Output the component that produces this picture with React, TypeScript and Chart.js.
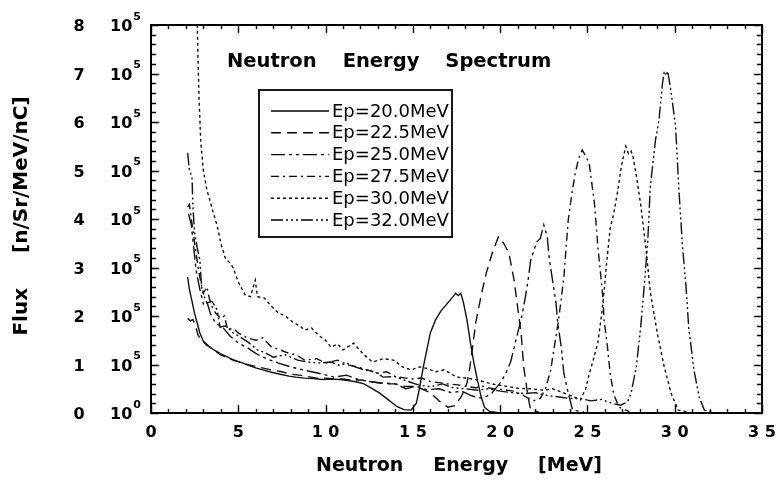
import { useEffect, useRef } from "react";
import { Chart, registerables } from "chart.js";

Chart.register(...registerables);

// ---------- data (flux in units of 10^5 n/Sr/MeV/nC vs neutron energy in MeV) ----------
const seriesLabels = ["Ep=20.0MeV", "Ep=22.5MeV", "Ep=25.0MeV", "Ep=27.5MeV", "Ep=30.0MeV", "Ep=32.0MeV"];

const ep20: [number, number][] = [
  [2.1, 2.8], [2.2, 2.55], [2.35, 2.3], [2.5, 2.05], [2.65, 1.85], [2.8, 1.65], [3.0, 1.48], [3.3, 1.38],
  [3.6, 1.3], [4.0, 1.22], [4.4, 1.15], [4.8, 1.08], [5.2, 1.04], [5.6, 0.98], [6.0, 0.93], [6.4, 0.89],
  [6.9, 0.84], [7.4, 0.8], [7.9, 0.76], [8.3, 0.74], [8.8, 0.72], [9.3, 0.71], [9.8, 0.69], [10.3, 0.7],
  [10.8, 0.69], [11.3, 0.67], [11.8, 0.64], [12.2, 0.6], [12.6, 0.52], [13.1, 0.41], [13.6, 0.27], [14.1, 0.13],
  [14.5, 0.07], [14.9, 0.06], [15.2, 0.2], [15.4, 0.55], [15.6, 0.95], [15.8, 1.3], [16.0, 1.65], [16.3, 1.92],
  [16.6, 2.1], [17.0, 2.27], [17.3, 2.4], [17.45, 2.47], [17.6, 2.42], [17.75, 2.47], [17.9, 2.27], [18.1, 1.92],
  [18.3, 1.44], [18.5, 1.03], [18.7, 0.68], [18.9, 0.35], [19.1, 0.12], [19.4, 0.03], [20.0, 0.0],
];

const ep225: [number, number][] = [
  [2.1, 1.95], [2.25, 1.9], [2.4, 1.93], [2.55, 1.8], [2.7, 1.6], [2.9, 1.5], [3.2, 1.4], [3.6, 1.3],
  [4.0, 1.2], [4.5, 1.12], [5.0, 1.06], [5.5, 1.0], [6.0, 0.96], [6.5, 0.92], [7.0, 0.88], [7.5, 0.85],
  [8.0, 0.8], [8.5, 0.78], [9.0, 0.75], [9.5, 0.72], [10.0, 0.72], [10.5, 0.7], [11.0, 0.7], [11.5, 0.68],
  [12.0, 0.68], [12.5, 0.65], [13.0, 0.62], [13.5, 0.6], [14.0, 0.6], [14.5, 0.55], [15.0, 0.55], [15.5, 0.5],
  [16.0, 0.42], [16.5, 0.25], [17.0, 0.12], [17.4, 0.15], [17.8, 0.35], [18.1, 0.62], [18.25, 0.9], [18.4, 1.3],
  [18.6, 1.86], [18.9, 2.4], [19.2, 2.88], [19.55, 3.3], [19.9, 3.63], [20.2, 3.5], [20.5, 3.3], [20.8, 2.74],
  [21.0, 2.19], [21.2, 1.65], [21.35, 0.95], [21.6, 0.33], [21.75, 0.06], [22.2, 0.02],
];

const ep25: [number, number][] = [
  [2.15, 4.1], [2.3, 3.9], [2.45, 3.4], [2.6, 2.9], [2.8, 2.55], [3.0, 2.25], [3.2, 2.3], [3.4, 2.05],
  [3.7, 1.85], [4.1, 1.77], [4.5, 1.6], [5.0, 1.44], [5.5, 1.35], [6.0, 1.23], [6.6, 1.12], [7.3, 1.03],
  [8.0, 0.95], [8.7, 0.89], [9.6, 0.82], [10.5, 0.74], [11.2, 0.78], [11.8, 0.7], [12.5, 0.65], [13.2, 0.62],
  [14.0, 0.6], [14.6, 0.5], [15.2, 0.55], [15.8, 0.48], [16.5, 0.5], [17.2, 0.42], [17.8, 0.45], [18.4, 0.35],
  [19.0, 0.3], [19.5, 0.4], [20.0, 0.62], [20.3, 0.8], [20.6, 1.05], [20.9, 1.5], [21.2, 1.92], [21.45, 2.4],
  [21.6, 2.74], [21.75, 3.15], [22.1, 3.53], [22.3, 3.6], [22.5, 3.88], [22.7, 3.63], [22.8, 3.22], [23.0, 2.74],
  [23.2, 2.27], [23.3, 1.86], [23.5, 1.36], [23.65, 0.82], [23.9, 0.41], [24.15, 0.06], [24.8, 0.02],
];

const ep275: [number, number][] = [
  [2.1, 4.25], [2.2, 4.3], [2.35, 3.9], [2.5, 3.5], [2.7, 3.0], [2.85, 2.7], [3.0, 2.47], [3.2, 2.6],
  [3.35, 2.35], [3.5, 2.19], [3.7, 2.06], [4.0, 1.95], [4.2, 2.0], [4.4, 1.71], [4.7, 1.75], [5.0, 1.65],
  [5.5, 1.55], [6.0, 1.5], [6.4, 1.55], [6.9, 1.36], [7.4, 1.3], [7.9, 1.23], [8.3, 1.2], [8.8, 1.09],
  [9.5, 1.12], [10.0, 1.03], [10.7, 1.09], [11.2, 1.0], [11.8, 0.95], [12.3, 0.9], [13.0, 0.82], [13.5, 0.85],
  [14.0, 0.75], [14.6, 0.72], [15.0, 0.7], [15.5, 0.72], [16.0, 0.65], [16.6, 0.62], [17.0, 0.6], [17.6, 0.58],
  [18.0, 0.55], [18.6, 0.52], [19.0, 0.55], [19.6, 0.5], [20.2, 0.48], [20.8, 0.45], [21.4, 0.35], [21.9, 0.25],
  [22.3, 0.3], [22.6, 0.5], [22.9, 0.89], [23.1, 1.36], [23.35, 1.92], [23.65, 2.8], [23.9, 3.98], [24.1, 4.5],
  [24.3, 4.94], [24.5, 5.25], [24.7, 5.42], [24.9, 5.3], [25.1, 5.15], [25.4, 4.33], [25.6, 3.42], [25.75, 2.88],
  [25.9, 2.33], [25.95, 1.92], [26.15, 1.36], [26.3, 0.82], [26.5, 0.4], [26.8, 0.12], [27.4, 0.03],
];

const ep30: [number, number][] = [
  [2.62, 8.5], [2.68, 7.5], [2.75, 6.5], [2.85, 5.6], [3.0, 5.0], [3.2, 4.6], [3.4, 4.35], [3.55, 4.15],
  [3.8, 3.85], [4.0, 3.5], [4.25, 3.2], [4.5, 3.1], [4.7, 3.0], [5.0, 2.7], [5.4, 2.43], [5.7, 2.4],
  [5.97, 2.74], [6.1, 2.4], [6.5, 2.37], [6.9, 2.2], [7.3, 2.06], [7.7, 2.0], [8.1, 1.88], [8.5, 1.8],
  [8.8, 1.71], [9.2, 1.75], [9.6, 1.6], [10.0, 1.5], [10.3, 1.36], [10.7, 1.42], [11.0, 1.3], [11.6, 1.44],
  [12.2, 1.2], [12.7, 1.05], [13.3, 1.12], [13.9, 1.09], [14.4, 0.95], [14.9, 0.89], [15.4, 0.95], [15.8, 0.92],
  [16.3, 0.85], [16.8, 0.89], [17.5, 0.74], [18.1, 0.72], [18.7, 0.68], [19.3, 0.62], [19.8, 0.58], [20.4, 0.55],
  [21.0, 0.51], [21.7, 0.5], [22.5, 0.47], [23.0, 0.5], [23.6, 0.42], [24.1, 0.35], [24.6, 0.27], [24.9, 0.5],
  [25.1, 0.8], [25.3, 1.05], [25.6, 1.45], [25.8, 2.0], [25.9, 2.3], [26.1, 3.1], [26.3, 3.8], [26.5, 4.1],
  [26.7, 4.5], [26.95, 5.1], [27.2, 5.5], [27.35, 5.35], [27.5, 5.4], [27.6, 5.3], [27.8, 4.9], [28.05, 4.3],
  [28.35, 3.4], [28.6, 2.5], [29.0, 1.65], [29.4, 0.95], [29.8, 0.4], [30.2, 0.06], [30.8, 0.02],
];

const ep32: [number, number][] = [
  [2.1, 5.36], [2.2, 5.0], [2.35, 4.87], [2.4, 4.25], [2.5, 3.7], [2.65, 3.4], [2.8, 3.15], [2.9, 2.6],
  [3.05, 2.4], [3.2, 2.27], [3.5, 2.3], [3.8, 2.12], [3.95, 1.77], [4.3, 1.8], [4.7, 1.65], [5.1, 1.57],
  [5.6, 1.45], [6.1, 1.3], [6.5, 1.25], [7.0, 1.15], [7.7, 1.2], [8.4, 1.09], [9.0, 1.05], [9.7, 1.03],
  [10.3, 1.05], [10.8, 0.98], [11.2, 1.03], [11.7, 0.95], [12.2, 0.89], [12.8, 0.85], [13.3, 0.74], [14.0, 0.75],
  [14.5, 0.68], [15.3, 0.58], [16.0, 0.54], [16.7, 0.6], [17.3, 0.52], [18.0, 0.5], [18.7, 0.47], [19.3, 0.5],
  [20.0, 0.45], [20.7, 0.42], [21.4, 0.4], [22.0, 0.42], [22.7, 0.36], [23.4, 0.33], [24.0, 0.3], [24.6, 0.3],
  [25.2, 0.25], [25.8, 0.28], [26.4, 0.2], [26.9, 0.16], [27.3, 0.23], [27.5, 0.41], [27.8, 0.95], [28.05, 1.77],
  [28.25, 2.6], [28.45, 3.5], [28.6, 4.66], [28.9, 5.63], [29.1, 6.04], [29.3, 6.8], [29.4, 7.05], [29.5, 6.95],
  [29.6, 7.05], [29.8, 6.6], [30.05, 5.9], [30.25, 4.54], [30.45, 3.42], [30.65, 2.6], [30.8, 1.77], [31.1, 0.89],
  [31.4, 0.33], [31.7, 0.06], [32.2, 0.01],
];

const seriesData = [ep20, ep225, ep25, ep275, ep30, ep32];
const seriesDash: number[][] = [
  [],
  [10, 6],
  [14, 4, 3, 4, 3, 4],
  [8, 4, 2, 4],
  [3, 3],
  [12, 3, 2, 3, 2, 3, 2, 3],
];

const xTickValues = [0, 5, 10, 15, 20, 25, 30, 35];
const xTickLabels = ["0", "5", "1 0", "1 5", "2 0", "2 5", "3 0", "3 5"];
const yTickValues = [0, 1, 2, 3, 4, 5, 6, 7, 8];
const yTickMantissa = ["0", "1", "2", "3", "4", "5", "6", "7", "8"];
const yTickExponent = ["0", "5", "5", "5", "5", "5", "5", "5", "5"];

const chartTitleWords = ["Neutron", "Energy", "Spectrum"];
const xTitleWords = ["Neutron", "Energy", "[MeV]"];
const yTitleParts = ["Flux", "[n/Sr/MeV/nC]"];

const FONT = '"DejaVu Sans", "Liberation Sans", Arial, sans-serif';

function drawWords(ctx: CanvasRenderingContext2D, words: string[], x: number, y: number, gap: number) {
  let cx = x;
  for (const w of words) {
    ctx.fillText(w, cx, y);
    cx += ctx.measureText(w).width + gap;
  }
}

function wordsWidth(ctx: CanvasRenderingContext2D, words: string[], gap: number) {
  return words.reduce((s, w) => s + ctx.measureText(w).width, 0) + gap * (words.length - 1);
}

const decorPlugin = {
  id: "decor",
  beforeDraw(chart: any) {
    const ctx = chart.ctx as CanvasRenderingContext2D;
    ctx.save();
    ctx.fillStyle = "#fff";
    ctx.fillRect(0, 0, chart.width, chart.height);
    ctx.restore();
  },
  afterDraw(chart: any) {
    const ctx = chart.ctx as CanvasRenderingContext2D;
    const { left, right, top, bottom } = chart.chartArea;
    const xs = chart.scales.x;
    const ys = chart.scales.y;
    ctx.save();
    ctx.setLineDash([]);
    ctx.strokeStyle = "#000";
    ctx.fillStyle = "#000";

    // frame
    ctx.lineWidth = 2;
    ctx.strokeRect(left, top, right - left, bottom - top);

    // ticks
    ctx.lineWidth = 1.4;
    ctx.beginPath();
    for (let v = 0; v <= 35; v++) {
      const px = Math.round(xs.getPixelForValue(v)) + 0.5;
      const len = v % 5 === 0 ? 8 : 4;
      ctx.moveTo(px, bottom);
      ctx.lineTo(px, bottom - len);
      ctx.moveTo(px, top);
      ctx.lineTo(px, top + len);
    }
    for (let i = 0; i <= 40; i++) {
      const v = i * 0.2;
      const py = Math.round(ys.getPixelForValue(v)) + 0.5;
      const len = i % 5 === 0 ? 8 : 5;
      ctx.moveTo(left, py);
      ctx.lineTo(left + len, py);
      ctx.moveTo(right, py);
      ctx.lineTo(right - len, py);
    }
    ctx.stroke();

    // x tick labels
    ctx.font = `bold 16px ${FONT}`;
    ctx.textAlign = "center";
    ctx.textBaseline = "middle";
    xTickValues.forEach((v, i) => {
      ctx.fillText(xTickLabels[i], xs.getPixelForValue(v), bottom + 20);
    });

    // y tick labels: "8  10^5"
    yTickValues.forEach((v, i) => {
      const py = ys.getPixelForValue(v) + 2;
      ctx.font = `bold 16px ${FONT}`;
      ctx.textAlign = "center";
      ctx.textBaseline = "middle";
      ctx.fillText(yTickMantissa[i], left - 72, py);
      ctx.textAlign = "left";
      ctx.fillText("10", left - 41, py);
      const w = ctx.measureText("10").width;
      ctx.font = `bold 11px ${FONT}`;
      ctx.fillText(yTickExponent[i], left - 41 + w + 1, py - 10);
    });

    // in-plot title
    ctx.font = `bold 19.5px ${FONT}`;
    ctx.textAlign = "left";
    ctx.textBaseline = "middle";
    drawWords(ctx, chartTitleWords, 227, 62, 26);

    // x axis title
    ctx.font = `bold 19px ${FONT}`;
    const xw = wordsWidth(ctx, xTitleWords, 30);
    drawWords(ctx, xTitleWords, 459 - xw / 2, bottom + 53, 30);

    // y axis title (rotated)
    ctx.save();
    ctx.translate(22, 216);
    ctx.rotate(-Math.PI / 2);
    ctx.font = `bold 20px ${FONT}`;
    const yw = wordsWidth(ctx, yTitleParts, 35);
    drawWords(ctx, yTitleParts, -yw / 2, 0, 35);
    ctx.restore();

    // legend box
    const bx = 259, by = 90, bw = 193, bh = 147;
    ctx.lineWidth = 1.8;
    ctx.strokeRect(bx, by, bw, bh);
    ctx.font = `18px ${FONT}`;
    ctx.textAlign = "left";
    ctx.textBaseline = "middle";
    chart.data.datasets.forEach((ds: any, i: number) => {
      const ry = 111 + i * 21.8;
      ctx.save();
      ctx.lineWidth = 1.4;
      ctx.setLineDash(ds.borderDash || []);
      ctx.beginPath();
      ctx.moveTo(271, ry);
      ctx.lineTo(329, ry);
      ctx.stroke();
      ctx.restore();
      ctx.fillText(ds.label, 332, ry + 1);
    });

    ctx.restore();
  },
};

export default function App() {
  const ref = useRef<HTMLCanvasElement | null>(null);
  useEffect(() => {
    if (!ref.current) return;
    const chart = new Chart(ref.current, {
      type: "line",
      data: {
        datasets: seriesData.map((pts, i) => ({
          label: seriesLabels[i],
          data: pts.map(([x, y]) => ({ x, y })),
          borderColor: "#111",
          borderWidth: 1.4,
          borderDash: seriesDash[i],
          pointRadius: 0,
          tension: 0,
          fill: false,
        })),
      },
      options: {
        responsive: false,
        animation: false,
        devicePixelRatio: 1,
        layout: { padding: { left: 151, right: 20, top: 25, bottom: 73 } },
        scales: {
          x: { type: "linear", min: 0, max: 35, display: false },
          y: { type: "linear", min: 0, max: 8, display: false },
        },
        plugins: { legend: { display: false }, tooltip: { enabled: false }, title: { display: false } },
      },
      plugins: [decorPlugin],
    });
    return () => chart.destroy();
  }, []);
  return (
    <div style={{ position: "absolute", left: 0, top: 0, width: 782, height: 486 }}>
      <canvas ref={ref} width={782} height={486} />
    </div>
  );
}
